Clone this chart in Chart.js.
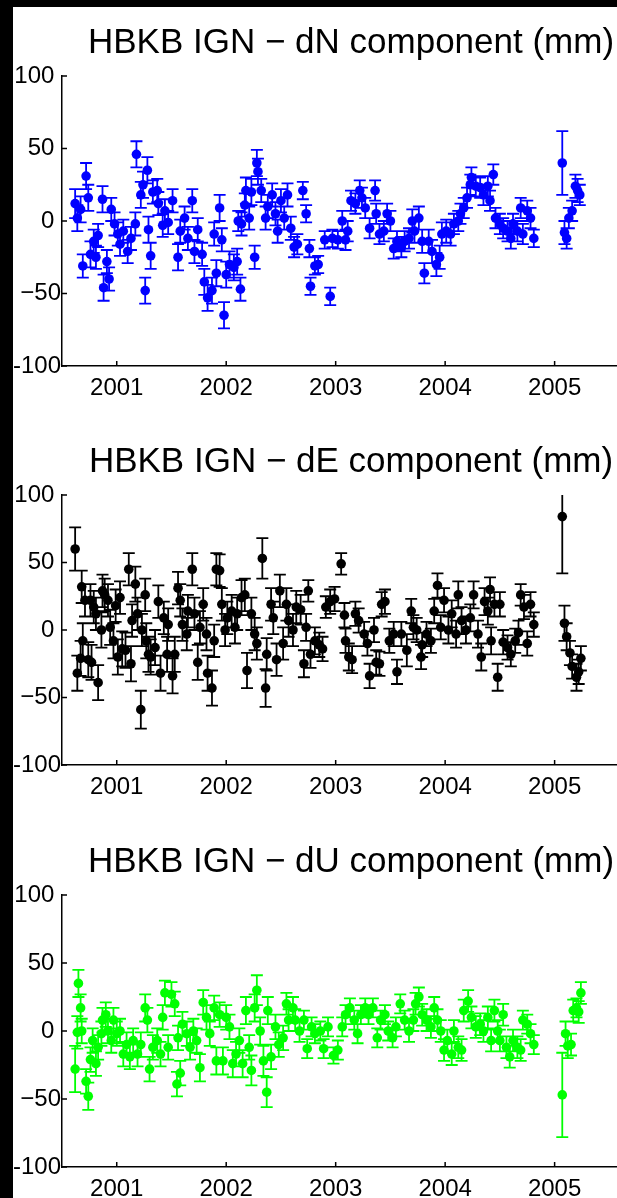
<!DOCTYPE html>
<html>
<head>
<meta charset="utf-8">
<script src="https://cdn.jsdelivr.net/npm/chart.js@4.4.1/dist/chart.umd.min.js"></script>
<style>
  html, body { margin: 0; padding: 0; width: 617px; height: 1198px; overflow: hidden; background: #fff; }
  canvas { position: absolute; left: 0; }
  #c1 { top: 0; }
  #c2 { top: 410px; }
  #c3 { top: 809px; }
  .frame { position: absolute; background: #000; }
  #frame-left { left: 0; top: 0; width: 13px; height: 1198px; }
  #frame-top { left: 0; top: 0; width: 617px; height: 7px; }
</style>
</head>
<body>
<canvas id="c1" width="660" height="410"></canvas>
<canvas id="c2" width="660" height="399"></canvas>
<canvas id="c3" width="660" height="402"></canvas>
<div class="frame" id="frame-left"></div>
<div class="frame" id="frame-top"></div>
<script>
// HBKB station minus IGN: weekly dN / dE / dU offsets (mm) with 1-sigma error bars.
const titles = [
  "HBKB IGN \u2212 dN component (mm)",
  "HBKB IGN \u2212 dE component (mm)",
  "HBKB IGN \u2212 dU component (mm)",
];

const xTickValues = [2001, 2002, 2003, 2004, 2005];
const xTickLabels = ["2001", "2002", "2003", "2004", "2005"];
const yTickValues = [-100, -50, 0, 50, 100];
// matlab pushes the negative labels closer to the axis; the trailing space mimics that
const yTickLabels = ["-100", "\u221250", "0 ", "50 ", "100 "];

const dnYears = [
  2000.62, 2000.64, 2000.67, 2000.69, 2000.72, 2000.74, 2000.76, 2000.79, 2000.81, 2000.83,
  2000.87, 2000.88, 2000.91, 2000.93, 2000.95, 2000.98, 2001.01, 2001.03, 2001.06, 2001.10,
  2001.13, 2001.17, 2001.18, 2001.22, 2001.24, 2001.26, 2001.28, 2001.29, 2001.31, 2001.33,
  2001.37, 2001.38, 2001.42, 2001.44, 2001.47, 2001.51, 2001.56, 2001.58, 2001.62, 2001.65,
  2001.69, 2001.71, 2001.74, 2001.78, 2001.80, 2001.83, 2001.87, 2001.89, 2001.91, 2001.94,
  2001.96, 2001.98, 2002.00, 2002.03, 2002.07, 2002.10, 2002.11, 2002.13, 2002.14, 2002.17,
  2002.18, 2002.21, 2002.23, 2002.26, 2002.28, 2002.29, 2002.32, 2002.36, 2002.38, 2002.42,
  2002.45, 2002.47, 2002.50, 2002.53, 2002.56, 2002.59, 2002.62, 2002.65, 2002.70, 2002.73,
  2002.76, 2002.77, 2002.81, 2002.84, 2002.90, 2002.95, 2002.97, 2003.02, 2003.06, 2003.09,
  2003.11, 2003.14, 2003.18, 2003.22, 2003.24, 2003.27, 2003.31, 2003.36, 2003.37, 2003.40,
  2003.44, 2003.47, 2003.50, 2003.53, 2003.56, 2003.60, 2003.63, 2003.67, 2003.70, 2003.72,
  2003.76, 2003.79, 2003.81, 2003.85, 2003.88, 2003.92, 2003.95, 2003.97, 2004.01, 2004.05,
  2004.08, 2004.12, 2004.14, 2004.17, 2004.20, 2004.23, 2004.24, 2004.28, 2004.32, 2004.35,
  2004.39, 2004.41, 2004.44, 2004.46, 2004.50, 2004.53, 2004.57, 2004.60, 2004.62, 2004.66,
  2004.69, 2004.71, 2004.75, 2004.78, 2004.81, 2005.07, 2005.09, 2005.11, 2005.13, 2005.16,
  2005.19, 2005.21, 2005.23,
];
const dnValues = [
  12, 2, 8, -31, 31, 16, -23, -14, -25, -10,
  15, -46, -28, -40, 8, -2, -9, -16, -7, -21,
  -12, -2, 46, 18, 25, -48, 35, -6, -24, 20,
  21, 12, -3, 7, -1, 14, -25, -7, 2, -12,
  14, -21, -6, -23, -42, -53, -48, -9, -36, 9,
  -13, -65, -37, -30, -32, -28, 0, -47, -2, 11,
  21, 2, 20, -25, 40, 34, 21, 2, 10, 18,
  5, -7, 14, 2, 18, -5, -18, -16, 21, 5,
  -19, -45, -31, -30, -13, -52, -12, -13, 0, -13,
  -7, 14, 12, 21, 16, 9, -5, 21, 5, -9,
  -7, 5, 0, -19, -14, -18, -14, -12, 0, -7,
  2, -14, -36, -14, -21, -30, -25, -9, -7, -9,
  -2, 0, 5, 9, 16, 25, 30, 24, 23, 18,
  24, 14, 32, 2, -2, -5, -7, -12, -2, -7,
  9, -9, 7, 2, -12, 40, -8, -12, 2, 7,
  24, 21, 18,
];
const dnErrors = [
  10, 9, 9, 8, 9, 9, 9, 8, 8, 8,
  9, 9, 8, 8, 8, 8, 8, 8, 8, 8,
  8, 8, 9, 9, 9, 9, 9, 9, 9, 8,
  8, 8, 8, 8, 8, 8, 9, 8, 8, 8,
  8, 8, 8, 8, 9, 9, 9, 8, 9, 9,
  8, 9, 9, 9, 9, 9, 7, 8, 8, 8,
  9, 8, 9, 8, 9, 9, 8, 8, 8, 8,
  8, 8, 8, 8, 8, 8, 7, 7, 6, 6,
  6, 6, 6, 6, 6, 6, 6, 6, 7, 7,
  7, 7, 7, 7, 7, 7, 7, 7, 7, 7,
  7, 7, 7, 7, 7, 7, 7, 7, 8, 8,
  8, 8, 7, 8, 8, 8, 8, 8, 8, 8,
  7, 7, 7, 7, 7, 7, 7, 7, 7, 7,
  7, 7, 7, 7, 7, 7, 7, 7, 7, 7,
  7, 7, 7, 7, 6, 22, 8, 7, 7, 7,
  8, 8, 7,
];

const deYears = [
  2000.62, 2000.64, 2000.67, 2000.68, 2000.69, 2000.71, 2000.74, 2000.76, 2000.77, 2000.79,
  2000.81, 2000.83, 2000.86, 2000.87, 2000.89, 2000.92, 2000.94, 2000.97, 2000.99, 2001.01,
  2001.03, 2001.05, 2001.08, 2001.11, 2001.13, 2001.14, 2001.17, 2001.19, 2001.22, 2001.23,
  2001.26, 2001.27, 2001.29, 2001.31, 2001.35, 2001.38, 2001.40, 2001.43, 2001.46, 2001.47,
  2001.51, 2001.53, 2001.56, 2001.58, 2001.60, 2001.64, 2001.65, 2001.69, 2001.71, 2001.74,
  2001.76, 2001.79, 2001.82, 2001.83, 2001.87, 2001.89, 2001.91, 2001.94, 2001.96, 2001.99,
  2002.01, 2002.05, 2002.08, 2002.10, 2002.14, 2002.17, 2002.19, 2002.23, 2002.26, 2002.28,
  2002.33, 2002.36, 2002.37, 2002.41, 2002.43, 2002.46, 2002.49, 2002.52, 2002.55, 2002.57,
  2002.61, 2002.64, 2002.68, 2002.71, 2002.73, 2002.75, 2002.77, 2002.81, 2002.85, 2002.88,
  2002.91, 2002.95, 2002.99, 2003.05, 2003.08, 2003.09, 2003.12, 2003.15, 2003.18, 2003.21,
  2003.26, 2003.29, 2003.31, 2003.35, 2003.37, 2003.40, 2003.42, 2003.45, 2003.49, 2003.53,
  2003.56, 2003.60, 2003.65, 2003.69, 2003.71, 2003.74, 2003.78, 2003.79, 2003.83, 2003.87,
  2003.90, 2003.93, 2003.96, 2003.99, 2004.03, 2004.06, 2004.10, 2004.12, 2004.15, 2004.19,
  2004.23, 2004.26, 2004.30, 2004.33, 2004.36, 2004.39, 2004.41, 2004.42, 2004.45, 2004.48,
  2004.50, 2004.53, 2004.57, 2004.60, 2004.64, 2004.67, 2004.69, 2004.72, 2004.75, 2004.78,
  2004.81, 2005.07, 2005.09, 2005.11, 2005.14, 2005.16, 2005.20, 2005.22, 2005.24,
];
const deValues = [
  60, -32, -21, 32, -8, 22, -22, 22, -24, 17,
  12, -39, 0, 29, 26, 22, 2, -8, 18, -20,
  24, -14, -15, 45, -25, 7, 34, 12, -59, 0,
  26, -8, -18, -20, -13, 21, -32, 9, -18, 4,
  -34, -18, 31, 22, 4, -3, 14, 45, 12, -24,
  2, 19, -3, -32, -43, -8, 45, 44, 19, 0,
  9, 14, 2, 12, 24, 26, -30, 12, -3, -10,
  53, -43, -18, 19, 9, -22, 29, -10, 19, 7,
  0, 17, 15, -25, 2, 29, -18, -8, -11, -14,
  17, 21, 23, 49, 11, -8, -20, -22, 12, 7,
  -3, -10, -34, 0, -24, -25, 19, 21, -8, -3,
  -31, -3, -15, 14, 2, 0, -20, -11, -3, -8,
  14, 33, 2, 22, 0, 12, -3, 26, 7, 0,
  9, 26, -3, -20, 21, 14, 30, -8, 19, -35,
  19, -9, -13, -18, -8, -2, 26, 17, -10, 19,
  4, 84, 5, -5, -17, -27, -35, -31, -21,
];
const deErrors = [
  16, 13, 13, 12, 13, 12, 13, 12, 13, 12,
  12, 13, 13, 12, 12, 12, 13, 13, 12, 13,
  12, 13, 13, 12, 13, 12, 13, 12, 14, 12,
  12, 13, 13, 13, 13, 12, 13, 12, 13, 12,
  13, 13, 12, 12, 12, 12, 12, 12, 12, 13,
  12, 12, 12, 13, 13, 12, 12, 12, 12, 12,
  12, 12, 12, 12, 13, 12, 13, 12, 12, 12,
  15, 14, 12, 12, 12, 12, 12, 12, 12, 12,
  12, 12, 11, 10, 10, 8, 10, 10, 9, 9,
  8, 9, 9, 8, 9, 9, 10, 10, 9, 9,
  9, 9, 9, 9, 9, 9, 9, 9, 9, 9,
  9, 9, 12, 9, 9, 9, 9, 9, 9, 9,
  9, 9, 9, 9, 10, 10, 10, 10, 10, 10,
  10, 10, 10, 10, 10, 10, 9, 10, 9, 10,
  9, 9, 9, 9, 9, 9, 8, 9, 9, 9,
  9, 42, 13, 10, 9, 9, 10, 9, 9,
];

const duYears = [
  2000.62, 2000.64, 2000.65, 2000.67, 2000.68, 2000.72, 2000.74, 2000.76, 2000.78, 2000.81,
  2000.83, 2000.86, 2000.87, 2000.90, 2000.92, 2000.95, 2000.97, 2001.00, 2001.03, 2001.06,
  2001.09, 2001.12, 2001.15, 2001.19, 2001.22, 2001.26, 2001.28, 2001.30, 2001.33, 2001.37,
  2001.40, 2001.42, 2001.44, 2001.47, 2001.50, 2001.53, 2001.55, 2001.56, 2001.58, 2001.60,
  2001.64, 2001.67, 2001.70, 2001.73, 2001.76, 2001.79, 2001.82, 2001.85, 2001.89, 2001.91,
  2001.94, 2001.97, 2002.00, 2002.03, 2002.06, 2002.09, 2002.12, 2002.15, 2002.18, 2002.21,
  2002.23, 2002.26, 2002.28, 2002.31, 2002.34, 2002.37, 2002.38, 2002.41, 2002.45, 2002.48,
  2002.52, 2002.55, 2002.57, 2002.61, 2002.63, 2002.67, 2002.71, 2002.74, 2002.78, 2002.81,
  2002.86, 2002.89, 2002.93, 2002.98, 2003.02, 2003.06, 2003.09, 2003.13, 2003.17, 2003.20,
  2003.23, 2003.27, 2003.30, 2003.34, 2003.38, 2003.41, 2003.45, 2003.48, 2003.52, 2003.55,
  2003.59, 2003.63, 2003.67, 2003.71, 2003.73, 2003.76, 2003.79, 2003.83, 2003.87, 2003.90,
  2003.93, 2003.96, 2003.99, 2004.02, 2004.06, 2004.08, 2004.12, 2004.15, 2004.17, 2004.21,
  2004.24, 2004.28, 2004.32, 2004.35, 2004.39, 2004.42, 2004.45, 2004.48, 2004.50, 2004.53,
  2004.56, 2004.59, 2004.62, 2004.66, 2004.69, 2004.71, 2004.75, 2004.78, 2004.81, 2005.07,
  2005.10, 2005.12, 2005.15, 2005.17, 2005.20, 2005.22, 2005.24,
];
const duValues = [
  -28, -1, 35, 17, 0, -37, -48, -21, -7, -24,
  -12, -2, 8, 12, 0, -7, 8, -2, 0, -17,
  -10, -19, -7, -17, -10, 17, 8, -28, -12, -7,
  -17, 10, 28, -12, 27, 20, -39, -5, -31, 5,
  -2, -12, 0, -7, -27, 21, 10, -2, 17, -22,
  12, -22, 10, 3, -24, -17, -7, -24, 15, -12,
  -29, 17, 30, 0, -22, -45, 15, -19, 3, -10,
  -5, 20, 8, 17, 8, 0, 8, -13, 3, -2,
  0, -13, 3, -18, -14, 3, 12, 17, 8, -2,
  12, 17, 12, 17, -5, 8, 12, 0, -5, 3,
  20, 8, 0, 8, 20, 25, 12, 8, 3, 17,
  8, 0, -14, -7, -17, 0, -12, -14, 15, 22,
  10, 3, 5, 0, 10, -7, 15, 0, -7, 12,
  -12, -19, -7, -12, -14, 8, 5, -2, -10, -47,
  -2, -11, -10, 15, 17, 14, 28,
];
const duErrors = [
  17, 12, 10, 10, 9, 9, 10, 9, 9, 9,
  9, 9, 9, 9, 9, 9, 9, 9, 9, 9,
  9, 9, 9, 9, 9, 10, 9, 9, 9, 9,
  9, 9, 9, 9, 9, 9, 9, 9, 9, 9,
  9, 9, 9, 9, 10, 9, 9, 9, 9, 10,
  9, 10, 9, 9, 10, 9, 9, 10, 10, 9,
  11, 10, 11, 10, 11, 11, 10, 9, 9, 9,
  9, 8, 8, 8, 8, 8, 7, 7, 7, 7,
  7, 7, 7, 6, 7, 7, 7, 7, 7, 7,
  7, 7, 7, 7, 7, 7, 7, 7, 7, 7,
  7, 7, 8, 8, 8, 7, 8, 8, 8, 8,
  8, 8, 8, 8, 8, 8, 8, 8, 8, 8,
  8, 8, 8, 8, 8, 8, 8, 8, 8, 8,
  8, 8, 8, 8, 8, 7, 7, 7, 7, 31,
  9, 9, 8, 8, 7, 8, 8,
];

const FONT = "'Liberation Sans', Arial, sans-serif";

// vertical error bars with caps, drawn through the chart's own scales
const errorBars = {
  id: "errorBars",
  beforeDatasetsDraw(chart, args, opts) {
    const { ctx, chartArea, scales } = chart;
    const ds = chart.data.datasets[0];
    ctx.save();
    ctx.beginPath();
    ctx.rect(chartArea.left, chartArea.top, chartArea.width, chartArea.height);
    ctx.clip();
    ctx.strokeStyle = ds.backgroundColor;
    ctx.lineWidth = 1.8;
    ctx.beginPath();
    ds.data.forEach((p, i) => {
      const px = scales.x.getPixelForValue(p.x);
      const top = scales.y.getPixelForValue(p.y + opts.errors[i]);
      const bot = scales.y.getPixelForValue(p.y - opts.errors[i]);
      ctx.moveTo(px, top);
      ctx.lineTo(px, bot);
      ctx.moveTo(px - 6, top);
      ctx.lineTo(px + 6, top);
      ctx.moveTo(px - 6, bot);
      ctx.lineTo(px + 6, bot);
    });
    ctx.stroke();
    ctx.restore();
  },
};

// matlab-style tick marks pointing into the plot
const innerTicks = {
  id: "innerTicks",
  afterDraw(chart) {
    const { ctx, chartArea, scales } = chart;
    ctx.save();
    ctx.strokeStyle = "#000";
    ctx.lineWidth = 1.5;
    ctx.beginPath();
    xTickValues.forEach((v) => {
      const px = scales.x.getPixelForValue(v);
      ctx.moveTo(px, chartArea.bottom);
      ctx.lineTo(px, chartArea.bottom - 5);
    });
    yTickValues.forEach((v) => {
      const py = scales.y.getPixelForValue(v);
      ctx.moveTo(chartArea.left, py);
      ctx.lineTo(chartArea.left + 5, py);
    });
    ctx.stroke();
    ctx.restore();
  },
};

function makePanel(id, title, years, values, errors, color, padTop) {
  return new Chart(document.getElementById(id), {
    type: "scatter",
    data: {
      datasets: [{
        data: years.map((x, i) => ({ x, y: values[i] })),
        backgroundColor: color,
        borderColor: color,
        pointRadius: 4.8,
        pointBorderWidth: 0,
        showLine: false,
      }],
    },
    options: {
      responsive: false,
      animation: false,
      layout: { padding: { top: padTop, left: 0, right: 20, bottom: 0 } },
      plugins: {
        legend: { display: false },
        tooltip: { enabled: false },
        title: {
          display: true,
          text: title,
          color: "#000",
          fullSize: false,
          font: { family: FONT, size: 35, weight: "normal" },
          padding: { top: 0, bottom: 12 },
        },
        errorBars: { errors },
      },
      scales: {
        x: {
          type: "linear",
          min: 2000.5,
          max: 2005.78,
          afterBuildTicks: (s) => { s.ticks = xTickValues.map((v) => ({ value: v })); },
          afterFit: (s) => { s.height = 44; },
          ticks: {
            callback: (v) => xTickLabels[xTickValues.indexOf(v)],
            color: "#000",
            font: { family: FONT, size: 24 },
            padding: 8,
            maxRotation: 0,
            autoSkip: false,
          },
          grid: { display: false, drawTicks: false },
          border: { display: true, color: "#000", width: 1.5 },
        },
        y: {
          min: -100,
          max: 100,
          afterBuildTicks: (s) => { s.ticks = yTickValues.map((v) => ({ value: v })); },
          afterFit: (s) => { s.width = 62; },
          ticks: {
            callback: (v) => yTickLabels[yTickValues.indexOf(v)],
            color: "#000",
            font: { family: FONT, size: 24 },
            padding: 1,
            autoSkip: false,
          },
          grid: { display: false, drawTicks: false },
          border: { display: true, color: "#000", width: 1.5 },
        },
      },
    },
    plugins: [errorBars, innerTicks],
  });
}

makePanel("c1", titles[0], dnYears, dnValues, dnErrors, "#0000ff", 22);
makePanel("c2", titles[1], deYears, deValues, deErrors, "#000000", 31);
makePanel("c3", titles[2], duYears, duValues, duErrors, "#00ff00", 32);
</script>
</body>
</html>
